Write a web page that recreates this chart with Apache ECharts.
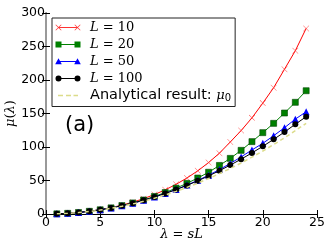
<!DOCTYPE html>
<html><head><meta charset="utf-8">
<script src="https://cdn.jsdelivr.net/npm/echarts@6/dist/echarts.min.js"></script>
<style>html,body{margin:0;padding:0;background:#fff}#c{width:332px;height:249px}</style>
</head><body><div id="c"></div>
<script>
// ---- data ----
const lambdaValues = [1,2,3,4,5,6,7,8,9,10,11,12,13,14,15,16,17,18,19,20,21,22,23,24];
const muL10  = [0.25,1.01,2.28,4.1,6.5,9.5,13.2,17.6,22.9,29.0,36.1,44.3,53.7,64.4,76.8,90.8,107.5,124.5,143.5,165.5,188.5,216.0,243.7,277.0];
const muL20  = [0.25,1.0,2.25,4.03,6.3,9.15,12.6,16.5,20.9,26.2,32.0,38.6,45.7,53.7,62.3,72.5,83.0,95.0,108.0,121.4,135.3,150.7,166.7,184.0];
const muL50  = [0.25,1.0,2.25,4.0,6.26,9.03,12.3,16.1,20.4,25.3,30.7,36.6,43.1,50.2,57.9,66.3,75.4,85.2,95.6,105.5,116.8,128.8,141.6,152.7];
const muL100 = [0.25,1.01,2.27,4.04,6.3,9.1,12.4,16.2,20.5,25.3,30.6,36.4,42.7,49.5,56.8,64.6,73.0,81.8,91.2,101.0,111.4,122.3,134.0,145.2];
const muAnalytical = [0.235,0.94,2.1,3.76,5.9,8.5,11.5,15.0,19.0,23.5,28.4,33.8,39.7,46.1,52.9,60.2,67.9,76.1,84.8,94.0,103.6,113.7,124.3,135.4];
const seriesNames = ['L=10','L=20','L=50','L=100','Analytical'];
const xTicks = [0,5,10,15,20,25];
const yTicks = [0,50,100,150,200,250,300];

const pts = ys => lambdaValues.map((x,i)=>[x, ys[i]]);

// ---- legend icon paths (26 x 8 box) ----
const pad = 'M0,0L0,0M26,8L26,8';
const lineSeg = 'M3.5,3.5L22.5,3.5L22.5,4.5L3.5,4.5Z';
function xMark(cx, cy, h){
  const t=0.45;
  return `M${cx-h},${cy-h+t}L${cx-h+t},${cy-h}L${cx},${cy-t}L${cx+h-t},${cy-h}L${cx+h},${cy-h+t}L${cx+t},${cy}L${cx+h},${cy+h-t}L${cx+h-t},${cy+h}L${cx},${cy+t}L${cx-h+t},${cy+h}L${cx-h},${cy+h-t}L${cx-t},${cy}Z`;
}
function sqMark(cx, cy, h){ return `M${cx-h},${cy-h}L${cx+h},${cy-h}L${cx+h},${cy+h}L${cx-h},${cy+h}Z`; }
function triMark(cx, cy, h){ return `M${cx},${cy-h}L${cx+h},${cy+h*0.8}L${cx-h},${cy+h*0.8}Z`; }
function circMark(cx, cy, r){ return `M${cx-r},${cy}A${r},${r} 0 1,1 ${cx+r},${cy}A${r},${r} 0 1,1 ${cx-r},${cy}Z`; }
const iconRed   = 'path://' + pad + lineSeg + xMark(3.5,4,3) + xMark(22.5,4,3);
const iconGreen = 'path://' + pad + lineSeg + sqMark(3.5,4,3) + sqMark(22.5,4,3);
const iconBlue  = 'path://' + pad + lineSeg + triMark(3.5,4,3.3) + triMark(22.5,4,3.3);
const iconBlack = 'path://' + pad + lineSeg + circMark(3.5,4,3) + circMark(22.5,4,3);
const iconYellow= 'path://' + pad + 'M3,3.3L8,3.3L8,4.7L3,4.7Z' + 'M11,3.3L16,3.3L16,4.7L11,4.7Z' + 'M18.5,3.3L23,3.3L23,4.7L18.5,4.7Z';
const xSymbol = 'path://' + xMark(5,5,5);

const serif = 'DejaVu Serif';
const sans = 'DejaVu Sans';
const richStyles = {
  it: {fontFamily: serif, fontStyle: 'italic', fontSize: 13, color: '#000'},
  rm: {fontFamily: serif, fontSize: 13, color: '#000'},
  sn: {fontFamily: sans, fontSize: 14.5, color: '#000'},
  sub: {fontFamily: sans, fontSize: 10, color: '#000', padding: [6,0,0,0]}
};
function legendLabel(name){
  if (name === 'Analytical') return '{sn|Analytical result: }{it|μ}{sub|0}';
  const v = name.split('=')[1];
  return '{it|L}{rm| = ' + v + '}';
}

const chart = echarts.init(document.getElementById('c'), null, {renderer:'canvas'});
const axisCommon = {
  type:'value',
  axisLine:{show:true, lineStyle:{color:'#000', width:1}},
  axisTick:{show:true, inside:true, length:4, lineStyle:{color:'#000'}},
  splitLine:{show:false}
};
const legendItem = (name, icon, color) => ({name, icon, itemStyle:{color, borderWidth:0, borderColor:color}});
chart.setOption({
  animation:false,
  backgroundColor:'#fff',
  grid:{left:46, right:15, top:13, bottom:35, containLabel:false, outerBoundsMode:'none'},
  xAxis:[
    Object.assign({}, axisCommon, {min:0, max:25, interval:5, position:'bottom',
      axisLabel:{fontFamily:sans, fontSize:12.5, color:'#000', margin:2},
      name:'{it|λ}{rm| = }{it|sL}', nameLocation:'middle', nameGap:14, nameMoveOverlap:false,
      nameTextStyle:{rich:richStyles}}),
    Object.assign({}, axisCommon, {min:0, max:25, interval:5, position:'top',
      axisLabel:{show:false}})
  ],
  yAxis:[
    Object.assign({}, axisCommon, {min:0, max:300, interval:50, position:'left',
      axisLabel:{fontFamily:sans, fontSize:12.5, color:'#000', margin:1},
      name:'{it|μ}{rm|(}{it|λ}{rm|)}', nameLocation:'middle', nameGap:29, nameRotate:90, nameMoveOverlap:false,
      nameTextStyle:{rich:richStyles}}),
    Object.assign({}, axisCommon, {min:0, max:300, interval:50, position:'right',
      axisLabel:{show:false}, axisLine:{show:true, lineStyle:{color:'#999', width:2}}})
  ],
  legend:{
    orient:'vertical', left:52, top:18,
    padding:[2,4,3,3], itemGap:2, itemWidth:26, itemHeight:8,
    backgroundColor:'#fff', borderColor:'#222', borderWidth:1, borderRadius:0,
    formatter: legendLabel,
    itemStyle:{borderWidth:0},
    textStyle:{rich:richStyles, padding:[0,0,0,4], lineHeight:15},
    selectedMode:false,
    data:[
      legendItem('L=10', iconRed, '#ff3333'),
      legendItem('L=20', iconGreen, '#008000'),
      legendItem('L=50', iconBlue, '#0000ff'),
      legendItem('L=100', iconBlack, '#000000'),
      legendItem('Analytical', iconYellow, '#dcdc8a')
    ]
  },
  graphic:[{type:'text', left:65, top:115, style:{text:'(a)', fontFamily:sans, fontSize:21, fill:'#000'}}],
  series:[
    {name:seriesNames[0], type:'line', data:pts(muL10), symbol:xSymbol, symbolSize:6, showAllSymbol:true,
      lineStyle:{color:'#ff0000', width:1}, itemStyle:{color:'#ff3333'}, z:2},
    {name:seriesNames[1], type:'line', data:pts(muL20), symbol:'rect', symbolSize:6, showAllSymbol:true,
      lineStyle:{color:'#008000', width:1}, itemStyle:{color:'#008000', borderColor:'#004400', borderWidth:0.6}, z:3},
    {name:seriesNames[2], type:'line', data:pts(muL50), symbol:'triangle', symbolSize:7, showAllSymbol:true,
      lineStyle:{color:'#0000ff', width:1}, itemStyle:{color:'#0000ff'}, z:4},
    {name:seriesNames[3], type:'line', data:pts(muL100), symbol:'circle', symbolSize:6, showAllSymbol:true,
      lineStyle:{color:'#000000', width:1}, itemStyle:{color:'#000000'}, z:5},
    {name:seriesNames[4], type:'line', data:pts(muAnalytical), showSymbol:false, symbol:'none',
      lineStyle:{color:'#dcdc8a', width:1.5, type:[4,3]}, itemStyle:{color:'#dcdc8a'}, z:6}
  ]
});
</script></body></html>
